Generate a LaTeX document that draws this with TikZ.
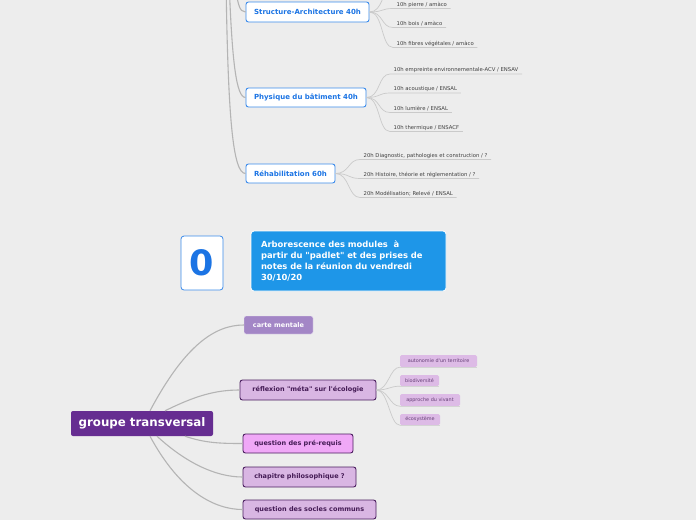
\documentclass[tikz,border=0pt]{standalone}
\usepackage{fontspec}
\setmainfont{DejaVu Sans}[Ligatures=TeXOff]
\usetikzlibrary{calc}
\definecolor{bg}{HTML}{EDEDED}
\definecolor{bluetxt}{HTML}{1B74E4}
\definecolor{blueline}{HTML}{3B8BEB}
\definecolor{titlefill}{HTML}{1E96E8}
\definecolor{gtfill}{HTML}{662D91}
\definecolor{cartefill}{HTML}{A386C6}
\definecolor{lilac}{HTML}{D9B6E3}
\definecolor{pink}{HTML}{F0A8F7}
\definecolor{darkpurple}{HTML}{4B1E5F}
\definecolor{leaffill}{HTML}{DDBBE6}
\definecolor{conn}{HTML}{B4B4B4}
\definecolor{lconn}{HTML}{CACACA}
\tikzset{
  bluenode/.style={draw=blueline, fill=white, rounded corners=2.5pt, line width=0.9pt,
    text=bluetxt, font=\bfseries\fontsize{7}{8}\selectfont, inner sep=0pt},
  leaftext/.style={font=\fontsize{5.3}{6}\selectfont, text=black!75, inner xsep=3.5pt, inner ysep=1.2pt, anchor=south west},
  mainconn/.style={draw=conn, line width=1.1pt},
  leafconn/.style={draw=lconn, line width=0.7pt},
  purplenode/.style={draw=darkpurple, rounded corners=2.5pt, line width=0.9pt, text=darkpurple!90!black,
    font=\bfseries\fontsize{6.5}{7.5}\selectfont, inner sep=0pt},
  smallleaf/.style={fill=leaffill, rounded corners=1.5pt, text=darkpurple!85, font=\fontsize{4.9}{5.5}\selectfont, inner sep=0pt}
}
\begin{document}
\begin{tikzpicture}[x=1pt,y=-1pt]
\fill[bg] (0,0) rectangle (696,520);
\useasboundingbox (0,0) rectangle (696,520);

% ---- upper part ----
\node[bluenode, minimum width=123pt, minimum height=20pt] (struct) at (307.5,12) {Structure-Architecture 40h};
\node[bluenode, minimum width=120pt, minimum height=19pt] (phys) at (306,97.5) {Physique du bâtiment 40h};
\node[bluenode, minimum width=89pt, minimum height=19pt] (rehab) at (290.5,173.5) {Réhabilitation 60h};

\coordinate (ra) at (234,-20);
\coordinate (rb) at (229,-20);
\coordinate (rc) at (226,-20);
\draw[mainconn] (ra) .. controls (238,4) and (239,12) .. (struct.west);
\draw[mainconn] (rb) .. controls (232,60) and (236,97.5) .. (phys.west);
\draw[mainconn] (rc) .. controls (228,120) and (233,173.5) .. (rehab.west);

% structure leaves
\node[leaftext] (s1) at (393,8.5) {10h pierre / amàco};
\node[leaftext] (s2) at (393,27.5) {10h bois / amàco};
\node[leaftext] (s3) at (393,47.5) {10h fibres végétales / amàco};
\coordinate (s0) at (393,-11);
\foreach \l in {s1,s2,s3}{
  \draw[leafconn] (struct.east) .. controls +(14,0) and +(-12,0) .. (\l.south west) -- (\l.south east);
}
\draw[leafconn] (struct.east) .. controls +(14,0) and +(-12,0) .. (s0);

% physique leaves
\node[leaftext] (p1) at (390,74) {10h empreinte environnementale-ACV / ENSAV};
\node[leaftext] (p2) at (390,93) {10h acoustique / ENSAL};
\node[leaftext] (p3) at (390,112.5) {10h lumière / ENSAL};
\node[leaftext] (p4) at (390,131.5) {10h thermique / ENSACF};
\foreach \l in {p1,p2,p3,p4}{
  \draw[leafconn] (phys.east) .. controls +(14,0) and +(-12,0) .. (\l.south west) -- (\l.south east);
}

% rehab leaves
\node[leaftext] (r1) at (360,159.5) {20h Diagnostic, pathologies et construction / ?};
\node[leaftext] (r2) at (360,178.5) {20h Histoire, théorie et réglementation / ?};
\node[leaftext] (r3) at (360,197.5) {20h Modélisation; Relevé / ENSAL};
\foreach \l in {r1,r2,r3}{
  \draw[leafconn] (rehab.east) .. controls +(14,0) and +(-12,0) .. (\l.south west) -- (\l.south east);
}

% ---- middle ----
\node[draw=blueline, fill=white, rounded corners=3pt, line width=0.8pt, minimum width=42pt, minimum height=54pt,
  inner sep=0pt, text=bluetxt, font=\bfseries\fontsize{35}{36}\selectfont] (zero) at (202,263) {0};
\node[draw=white, fill=titlefill, rounded corners=3pt, line width=0.8pt, minimum width=195pt, minimum height=60pt,
  inner xsep=10pt, inner ysep=0pt, text width=175pt, align=left, text=white,
  font=\bfseries\fontsize{8.4}{10.7}\selectfont] (title) at (348.5,261)
  {Arborescence des modules \ à\\ partir du "padlet" et des prises de\\ notes de la réunion du vendredi\\ 30/10/20};

% ---- lower part ----
\node[fill=gtfill, rounded corners=2pt, minimum width=142pt, minimum height=25pt, inner sep=0pt, text=white,
  font=\bfseries\fontsize{11.8}{13}\selectfont] (gt) at (142,423.5) {groupe transversal};

\node[fill=cartefill, draw=white!80!cartefill, rounded corners=2pt, minimum width=69pt, minimum height=18pt, inner sep=0pt,
  text=white, font=\bfseries\fontsize{6.5}{7.5}\selectfont] (carte) at (278.5,325) {carte mentale};
\node[purplenode, fill=lilac, minimum width=136pt, minimum height=20pt] (meta) at (308,390) {réflexion "méta" sur l'écologie};
\node[purplenode, fill=pink, minimum width=110pt, minimum height=19pt] (prereq) at (298,443.5) {question des pré-requis};
\node[purplenode, fill=lilac, minimum width=113pt, minimum height=20pt] (philo) at (299.5,477) {chapitre philosophique ?};
\node[purplenode, fill=lilac, minimum width=133pt, minimum height=19pt] (socles) at (309.5,509.5) {question des socles communs};

\draw[mainconn] ($(gt.north)+(8,0)$) .. controls (185,345) and (215,325) .. (carte.west);
\draw[mainconn] ($(gt.north)+(23,0)$) .. controls (195,396) and (215,390) .. (meta.west);
\draw[mainconn] ($(gt.south)+(43,0)$) .. controls (205,443) and (220,443.5) .. (prereq.west);
\draw[mainconn] ($(gt.south)+(15,0)$) .. controls (185,462) and (215,477) .. (philo.west);
\draw[mainconn] ($(gt.south)+(8,0)$) .. controls (180,492) and (215,509.5) .. (socles.west);

\node[smallleaf, minimum width=77pt, minimum height=12pt] (m1) at (438.5,361) {autonomie d'un territoire};
\node[smallleaf, minimum width=39pt, minimum height=11pt] (m2) at (419.5,380.5) {biodiversité};
\node[smallleaf, minimum width=60pt, minimum height=12pt] (m3) at (430,400) {approche du vivant};
\node[smallleaf, minimum width=40pt, minimum height=11pt] (m4) at (420,419.5) {écosystème};
\foreach \l in {m1,m2,m3,m4}{
  \draw[leafconn] (meta.east) .. controls +(12,0) and +(-10,0) .. (\l.south west);
  \draw[lconn!70!bg, line width=0.6pt] (\l.south west) -- (\l.south east);
}
\end{tikzpicture}
\end{document}
